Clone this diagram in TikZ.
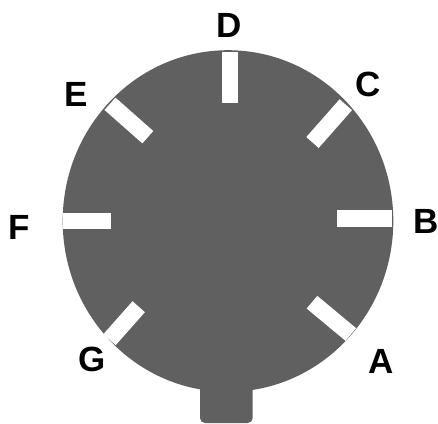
\documentclass[tikz,border=0pt]{standalone}
\usepackage{fontspec}
\setmainfont{Liberation Sans}
\definecolor{disk}{RGB}{96,96,96}
\begin{document}
\begin{tikzpicture}[x=1pt,y=-1pt,
  slot/.style={draw=white,line width=16.5pt,line cap=butt},
  lbl/.style={font=\fontsize{35}{35}\selectfont\bfseries, inner sep=0pt, text=black}]
\useasboundingbox (0,0) rectangle (438,423);
% tab
\fill[disk, rounded corners=5pt] (200,350) -- (200,423) -- (252.7,423) -- (252.7,350) -- cycle;
% disk
\fill[disk] (228,221) ellipse [x radius=165.3pt, y radius=170.8pt];
% slot end points
\coordinate (Do) at (230,51.7);   \coordinate (Di) at (230,102.7);
\coordinate (Co) at (345.8,104.7);\coordinate (Ci) at (312.5,142.5);
\coordinate (Bo) at (391.7,218.7);\coordinate (Bi) at (336.7,218.7);
\coordinate (Ao) at (350.8,334.5);\coordinate (Ai) at (312,302.2);
\coordinate (Go) at (109.5,339.7);\coordinate (Gi) at (138.7,306.7);
\coordinate (Fo) at (63.3,220.8); \coordinate (Fi) at (111,220.8);
\coordinate (Eo) at (110,103.8);  \coordinate (Ei) at (147.8,137.2);
\draw[slot] (Do) -- (Di);
\draw[slot] (Co) -- (Ci);
\draw[slot] (Bo) -- (Bi);
\draw[slot] (Ao) -- (Ai);
\draw[slot] (Go) -- (Gi);
\draw[slot] (Fo) -- (Fi);
\draw[slot] (Eo) -- (Ei);
% labels
\node[lbl] (D) at (228.7,25.3) {D};
\node[lbl] (C) at (368.3,84) {C};
\node[lbl] (B) at (426.5,221) {B};
\node[lbl] (A) at (380.8,361.7) {A};
\node[lbl] (G) at (91.7,359.7) {G};
\node[lbl] (F) at (18.7,227.8) {F};
\node[lbl] (E) at (76.2,94.2) {E};
\end{tikzpicture}
\end{document}
